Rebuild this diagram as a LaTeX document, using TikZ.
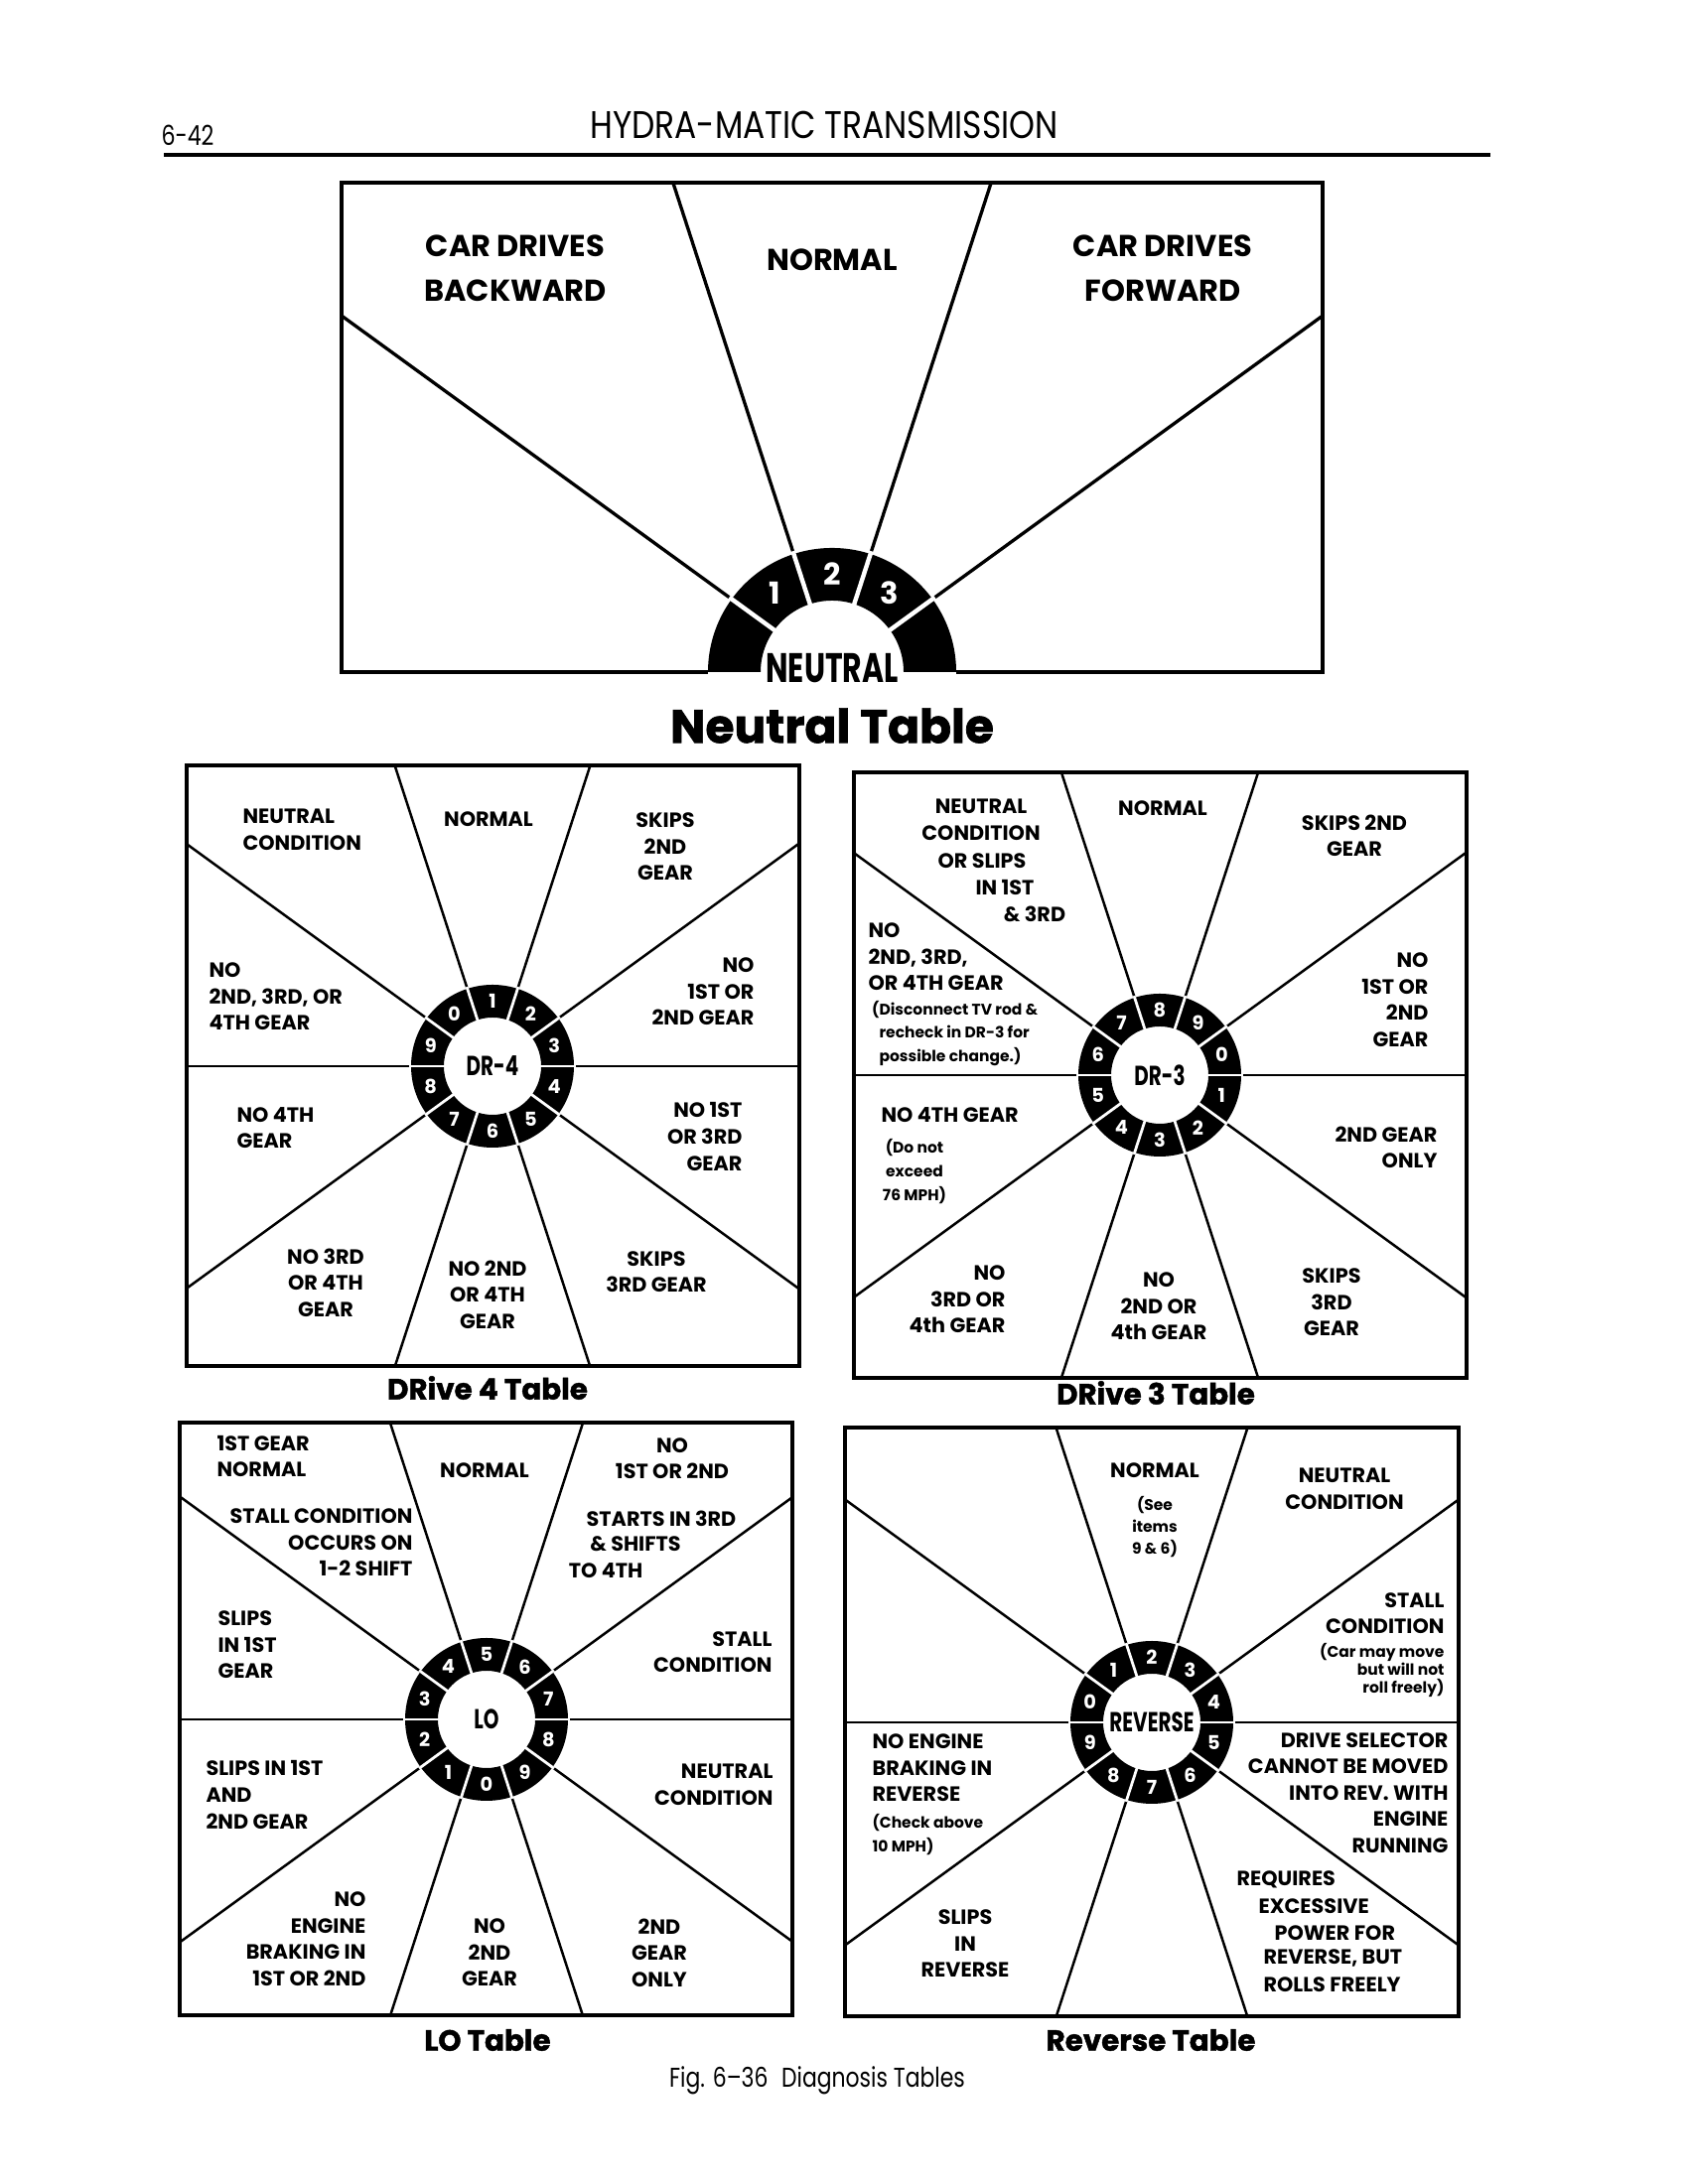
\documentclass[tikz,border=0pt]{standalone}
\usepackage{fontspec}
\setmainfont{Poppins}
\newfontfamily\condfont{Poppins}[FakeStretch=0.8]
\newfontfamily\headfont{Poppins}[FakeStretch=0.85]
\newfontfamily\hubfont{Poppins}[FakeStretch=0.72]
\newfontfamily\capfont{Poppins}[BoldFeatures={FakeBold=1.5}]
\usepackage{tikz}

\begin{document}
\begin{tikzpicture}[
    x=0.0127cm, y=0.0127cm,
    frame/.style={line width=1.3pt},
    spoke/.style={line width=0.9pt},
    gap/.style={white, line width=1pt},
    ring/.style={fill=black, even odd rule},
    lbl/.style={font=\fontsize{7.5}{9.6}\selectfont\bfseries, align=center, inner sep=0pt},
    note/.style={font=\fontsize{5.6}{8.6}\selectfont\bfseries, align=center, inner sep=0pt},
    num/.style={text=white, font=\fontsize{7}{7}\selectfont\bfseries, inner sep=0pt},
    hub/.style={font=\hubfont\fontsize{10}{10}\selectfont\bfseries, inner sep=0pt},
    caption/.style={font=\capfont\fontsize{10.6}{12}\selectfont\bfseries, inner sep=0pt},
  ]
    \fill[white] (0,0) rectangle (1700,2200);

    % Page header
    \node[font=\condfont\fontsize{10}{12}\selectfont] (page) at (189,2064) {6-42};
    \node[font=\headfont\fontsize{14}{16}\selectfont] (head) at (830,2074) {HYDRA-MATIC TRANSMISSION};
    \draw[line width=1.5pt] (165,2044) -- (1501,2044);

    % Neutral table
    \draw[frame, line width=1.6pt] (713,1523) -- (344,1523) -- (344,2016) -- (1332,2016) -- (1332,1523) -- (963,1523);
    \begin{scope}
      \clip (344,1523) rectangle (1332,2016);
      \foreach \a in {36,72,108,144}
        \draw[spoke, line width=1.2pt] (838,1523) ++(\a:100) -- ++(\a:800);
    \end{scope}
    \fill[black] (713,1523) arc[start angle=180, end angle=0, radius=125]
         -- (910,1523) arc[start angle=0, end angle=180, radius=72] -- cycle;
    \foreach \a in {36,72,108,144}
      \draw[gap, line width=1.6pt] (838,1523) ++(\a:70) -- ++(\a:58);
    \path (838,1523) ++(126:98.5) node[num, font=\fontsize{11}{11}\selectfont\bfseries] (nn1) {1};
    \path (838,1523) ++(90:98.5) node[num, font=\fontsize{11}{11}\selectfont\bfseries] (nn2) {2};
    \path (838,1523) ++(54:98.5) node[num, font=\fontsize{11}{11}\selectfont\bfseries] (nn3) {3};
    \node[hub, font=\hubfont\fontsize{15}{15}\selectfont\bfseries, anchor=base] (nhub) at (838,1512) {NEUTRAL};
    \node[lbl, font=\fontsize{11}{16.2}\selectfont\bfseries] (nback) at (519,1930) {CAR DRIVES\\BACKWARD};
    \node[lbl, font=\fontsize{11}{16.2}\selectfont\bfseries] (nnorm) at (838,1938) {NORMAL};
    \node[lbl, font=\fontsize{11}{16.2}\selectfont\bfseries] (nfwd) at (1171,1930) {CAR DRIVES\\FORWARD};
    \node[caption, font=\capfont\fontsize{17}{20}\selectfont\bfseries] (ncap) at (838,1469) {Neutral Table};

    % DRive 4 table
    \draw[frame] (188,824) rectangle (805,1429);
    \begin{scope}
      \clip (188,824) rectangle (805,1429);
      \foreach \a in {0,36,...,324}
        \draw[spoke] (496,1126) ++(\a:60) -- ++(\a:500);
    \end{scope}
    \fill[ring] (496,1126) circle (82) circle (49);
    \foreach \a in {0,36,...,324}
      \draw[gap] (496,1126) ++(\a:47) -- ++(\a:37);
    \foreach \n [count=\i] in {1,2,3,4,5,6,7,8,9,0}
      \path (496,1126) ++({126-36*\i}:65.5) node[num] (d4n\i) {\n};
    \node[hub] (d4hub) at (496,1126) {DR-4};
    \node[lbl, anchor=west, align=left] (d4a) at (244,1364) {NEUTRAL\\CONDITION};
    \node[lbl] (d4b) at (492,1375) {NORMAL};
    \node[lbl] (d4c) at (670,1347) {SKIPS\\2ND\\GEAR};
    \node[lbl, anchor=west, align=left] (d4d) at (210,1196) {NO\\2ND, 3RD, OR\\4TH GEAR};
    \node[lbl, anchor=east, align=right] (d4e) at (760,1201) {NO\\1ST OR\\2ND GEAR};
    \node[lbl, anchor=west, align=left] (d4f) at (238,1064) {NO 4TH\\GEAR};
    \node[lbl, anchor=east, align=right] (d4g) at (748,1055) {NO 1ST\\OR 3RD\\GEAR};
    \node[lbl] (d4h) at (328,908) {NO 3RD\\OR 4TH\\GEAR};
    \node[lbl] (d4i) at (491,896) {NO 2ND\\OR 4TH\\GEAR};
    \node[lbl] (d4j) at (661,919) {SKIPS\\3RD GEAR};
    \node[caption] (d4cap) at (491,802) {DRive 4 Table};

    % DRive 3 table
    \draw[frame] (860,812) rectangle (1477,1422);
    \begin{scope}
      \clip (860,812) rectangle (1477,1422);
      \foreach \a in {0,36,...,324}
        \draw[spoke] (1168,1117) ++(\a:60) -- ++(\a:500);
    \end{scope}
    \fill[ring] (1168,1117) circle (82) circle (49);
    \foreach \a in {0,36,...,324}
      \draw[gap] (1168,1117) ++(\a:47) -- ++(\a:37);
    \foreach \n [count=\i] in {8,9,0,1,2,3,4,5,6,7}
      \path (1168,1117) ++({126-36*\i}:65.5) node[num] (d3n\i) {\n};
    \node[hub] (d3hub) at (1168,1117) {DR-3};
    \node[lbl] (d3a1) at (988,1388) {NEUTRAL};
    \node[lbl] (d3a2) at (988,1361) {CONDITION};
    \node[lbl] (d3a3) at (989,1333) {OR SLIPS};
    \node[lbl] (d3a4) at (1012,1306) {IN 1ST};
    \node[lbl] (d3a5) at (1042,1279) {\& 3RD};
    \node[lbl] (d3b) at (1171,1386) {NORMAL};
    \node[lbl] (d3c) at (1364,1358) {SKIPS 2ND\\GEAR};
    \node[lbl, anchor=west, align=left] (d3d) at (874,1236) {NO\\2ND, 3RD,\\OR 4TH GEAR};
    \node[note, anchor=west, align=left] (d3dn) at (885,1159) {\llap{(}Disconnect TV rod \&\\recheck in DR-3 for\\possible change.)};
    \node[lbl, anchor=east, align=right] (d3e) at (1439,1193) {NO\\1ST OR\\2ND\\GEAR};
    \node[lbl, anchor=west, align=left] (d3f) at (887,1077) {NO 4TH GEAR};
    \node[note] (d3fn) at (921,1020) {(Do not\\exceed\\76 MPH)};
    \node[lbl, anchor=east, align=right] (d3g) at (1448,1044) {2ND GEAR\\ONLY};
    \node[lbl, anchor=east, align=right] (d3h) at (1013,891) {NO\\3RD OR\\4th GEAR};
    \node[lbl] (d3i) at (1167,884) {NO\\2ND OR\\4th GEAR};
    \node[lbl] (d3j) at (1341,888) {SKIPS\\3RD\\GEAR};
    \node[caption] (d3cap) at (1164,797) {DRive 3 Table};

    % LO table
    \draw[frame] (181,170) rectangle (798,767);
    \begin{scope}
      \clip (181,170) rectangle (798,767);
      \foreach \a in {0,36,...,324}
        \draw[spoke] (490,468) ++(\a:60) -- ++(\a:500);
    \end{scope}
    \fill[ring] (490,468) circle (82) circle (49);
    \foreach \a in {0,36,...,324}
      \draw[gap] (490,468) ++(\a:47) -- ++(\a:37);
    \foreach \n [count=\i] in {5,6,7,8,9,0,1,2,3,4}
      \path (490,468) ++({126-36*\i}:65.5) node[num] (lon\i) {\n};
    \node[hub] (lohub) at (490,468) {LO};
    \node[lbl, anchor=west, align=left] (loa) at (218,733) {1ST GEAR\\NORMAL};
    \node[lbl, anchor=east, align=right] (lob) at (416,646) {STALL CONDITION\\OCCURS ON\\1-2 SHIFT};
    \node[lbl] (loc) at (488,719) {NORMAL};
    \node[lbl] (lod) at (677,731) {NO\\1ST OR 2ND};
    \node[lbl] (loe1) at (666,670) {STARTS IN 3RD};
    \node[lbl] (loe2) at (640,645) {\& SHIFTS};
    \node[lbl] (loe3) at (610,618) {TO 4TH};
    \node[lbl, anchor=west, align=left] (lof) at (219,543) {SLIPS\\IN 1ST\\GEAR};
    \node[lbl, anchor=east, align=right] (log) at (778,536) {STALL\\CONDITION};
    \node[lbl, anchor=west, align=left] (loh) at (207,392) {SLIPS IN 1ST\\AND\\2ND GEAR};
    \node[lbl, anchor=east, align=right] (loi) at (779,402) {NEUTRAL\\CONDITION};
    \node[lbl, anchor=east, align=right] (loj) at (369,247) {NO\\ENGINE\\BRAKING IN\\1ST OR 2ND};
    \node[lbl] (lok) at (493,233) {NO\\2ND\\GEAR};
    \node[lbl] (lol) at (664,233) {2ND\\GEAR\\ONLY};
    \node[caption] (locap) at (491,145) {LO Table};

    % Reverse table
    \draw[frame] (851,169) rectangle (1469,762);
    \begin{scope}
      \clip (851,169) rectangle (1469,762);
      \foreach \a in {0,36,...,324}
        \draw[spoke] (1160,465) ++(\a:60) -- ++(\a:500);
    \end{scope}
    \fill[ring] (1160,465) circle (82) circle (49);
    \foreach \a in {0,36,...,324}
      \draw[gap] (1160,465) ++(\a:47) -- ++(\a:37);
    \foreach \n [count=\i] in {2,3,4,5,6,7,8,9,0,1}
      \path (1160,465) ++({126-36*\i}:65.5) node[num] (rvn\i) {\n};
    \node[hub] (rvhub) at (1160,465) {REVERSE};
    \node[lbl] (rva) at (1163,719) {NORMAL};
    \node[note, font=\fontsize{5.6}{8}\selectfont\bfseries] (rvan) at (1163,662) {(See\\items\\9 \& 6)};
    \node[lbl] (rvb) at (1354,700) {NEUTRAL\\CONDITION};
    \node[lbl, anchor=east, align=right] (rvc) at (1455,575) {STALL\\CONDITION};
    \node[note, anchor=east, align=right, font=\fontsize{5.6}{6.5}\selectfont\bfseries] (rvcn) at (1455,518) {(Car may move\\but will not\\roll freely)};
    \node[lbl, anchor=east, align=right] (rvd) at (1459,394) {DRIVE SELECTOR\\CANNOT BE MOVED\\INTO REV. WITH\\ENGINE\\RUNNING};
    \node[lbl, anchor=west, align=left] (rve) at (878,419) {NO ENGINE\\BRAKING IN\\REVERSE};
    \node[note, anchor=west, align=left] (rven) at (878,352) {(Check above\\10 MPH)};
    \node[lbl] (rvf) at (972,242) {SLIPS\\IN\\REVERSE};
    \node[lbl, anchor=west] (rvg1) at (1245,307) {REQUIRES};
    \node[lbl, anchor=west] (rvg2) at (1267,280) {EXCESSIVE};
    \node[lbl, anchor=west] (rvg3) at (1283,253) {POWER FOR};
    \node[lbl, anchor=west] (rvg4) at (1272,228) {REVERSE, BUT};
    \node[lbl, anchor=west] (rvg5) at (1272,201) {ROLLS FREELY};
    \node[caption] (rvcap) at (1159,145) {Reverse Table};

    % Figure caption
    \node[font=\condfont\fontsize{9.9}{11}\selectfont] (fig) at (823,104) {Fig. 6–36\enspace Diagnosis Tables};
\end{tikzpicture}
\end{document}
